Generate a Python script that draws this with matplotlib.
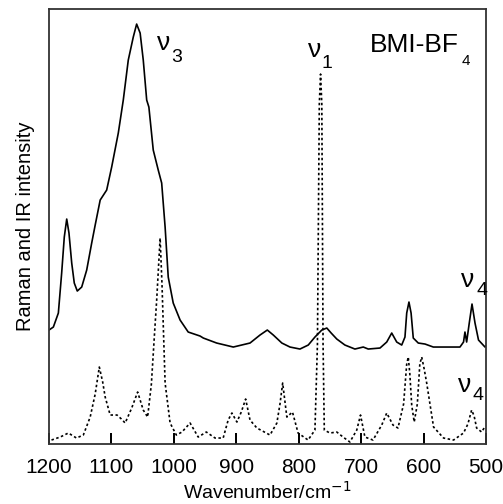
import numpy as np
import matplotlib
matplotlib.use("Agg")
import matplotlib.pyplot as plt

plt.rcParams['font.family'] = ['Liberation Sans', 'DejaVu Sans']

# Raman spectrum (solid), wavenumber in cm-1, intensity in arbitrary units
raman_wn = [1200, 1193, 1185, 1179.7, 1175.5, 1171.6, 1168, 1163.6, 1159.5, 1154.7,
            1147.6, 1139.6, 1131.6, 1126, 1118, 1107.6, 1099.6, 1089, 1081, 1073,
            1065, 1059.6, 1054, 1049, 1043.5, 1040, 1033, 1025, 1019.5, 1014,
            1009, 1001, 990, 977, 958, 952.8, 931.4, 904.8, 878, 862,
            850.3, 840.7, 827, 814, 798, 784.7, 774, 763, 755, 748,
            739, 726, 710, 696.6, 688.6, 669.8, 659, 651, 643, 635,
            629.8, 627, 623.4, 620, 616.5, 608.5, 597.7, 584.4, 541.7, 536,
            533.7, 531, 526.8, 522.4, 517.6, 512, 501.6, 500]
raman_int = [114, 117, 131, 171, 207, 225, 211, 181, 161, 153,
             157, 174, 201, 219, 244, 254, 277, 311, 344, 384,
             407, 420, 411, 384, 344, 337, 294, 274, 261, 217,
             167, 141, 124, 112, 108, 106, 101, 97, 101, 109,
             114, 109, 101, 97, 95, 99, 107, 114, 116, 111,
             105, 99, 95, 97, 95, 96, 102, 111, 102, 99,
             107, 131, 142, 131, 106, 101, 100, 97, 97, 102,
             112, 102, 121, 140, 121, 104, 97, 98]

# IR spectrum (dotted)
ir_wn = [1196, 1182, 1169, 1156, 1145, 1134, 1126, 1119.4, 1114, 1110,
         1102, 1091, 1084, 1078, 1067.5, 1058, 1049, 1042, 1036, 1031,
         1027.5, 1022, 1019, 1016, 1014, 1006, 996, 987, 974, 961,
         948, 934, 921, 913, 907, 899, 892, 885, 878, 867,
         846, 835, 830, 825.7, 819, 810, 801, 785, 774, 770,
         767, 765, 763, 761, 759, 750, 739, 729, 718, 707,
         701, 694, 681, 667, 659, 649, 641, 632, 627, 624.5,
         622, 619, 615, 610, 606, 603, 599, 595, 584, 568,
         552, 536, 529, 523, 519, 515, 507, 502]
ir_int = [4, 7, 11, 6, 9, 27, 50, 77, 62, 47,
          29, 29, 25, 21, 36, 52, 34, 27, 60, 110,
          144, 206, 160, 100, 61, 21, 9, 12, 21, 7,
          12, 6, 6, 24, 31, 22, 32, 45, 24, 16,
          9, 21, 40, 61, 27, 32, 11, 4, 14, 100,
          340, 370, 340, 100, 14, 11, 12, 7, 2, 14,
          29, 7, 4, 19, 31, 19, 16, 40, 80, 87,
          70, 39, 22, 40, 80, 87, 75, 61, 17, 6,
          4, 11, 20, 34, 28, 16, 12, 17]

xticks = [1200, 1100, 1000, 900, 800, 700, 600, 500]

fig = plt.figure(figsize=(5.03, 5.04), dpi=100)
ax = fig.add_axes([0.0974, 0.119, 0.8688, 0.863])

ax.plot(raman_wn, raman_int, color='black', lw=1.2)
ax.plot(ir_wn, ir_int, color='black', lw=1.2, linestyle=(0, (1.5, 1.5)))

ax.set_xlim(1200, 500)
ax.set_ylim(0, 435)
ax.set_xticks(xticks)
ax.set_yticks([])
ax.tick_params(axis='x', which='major', direction='in', length=8, width=1.3,
               color='black', labelsize=15, pad=10, bottom=True, top=False)
# inward tick marks drawn explicitly as well
ax.vlines(xticks, 0, 0.026, transform=ax.get_xaxis_transform(),
          color='black', lw=1.3, clip_on=False)
for s in ax.spines.values():
    s.set_linewidth(1.3)
    s.set_color('#333333')

ax.set_xlabel('Wavenumber/cm$^{-1}$', fontsize=14, labelpad=3)
ax.set_ylabel('Raman and IR intensity', fontsize=14.5, labelpad=10)

# band labels: nu symbol plus separate subscript
ax.text(1027, 394, 'ν', fontsize=19)
ax.text(1004.5, 382, '3', fontsize=14)
ax.text(785, 387, 'ν', fontsize=19)
ax.text(763, 376, '1', fontsize=14)
ax.text(686, 392, 'BMI-BF', fontsize=19)
ax.text(538.5, 379, '4', fontsize=11)
ax.text(539.5, 157, 'ν', fontsize=19)
ax.text(516, 149, '4', fontsize=14)
ax.text(545, 52, 'ν', fontsize=19)
ax.text(522, 44, '4', fontsize=14)

fig.savefig('out.png', dpi=100)
